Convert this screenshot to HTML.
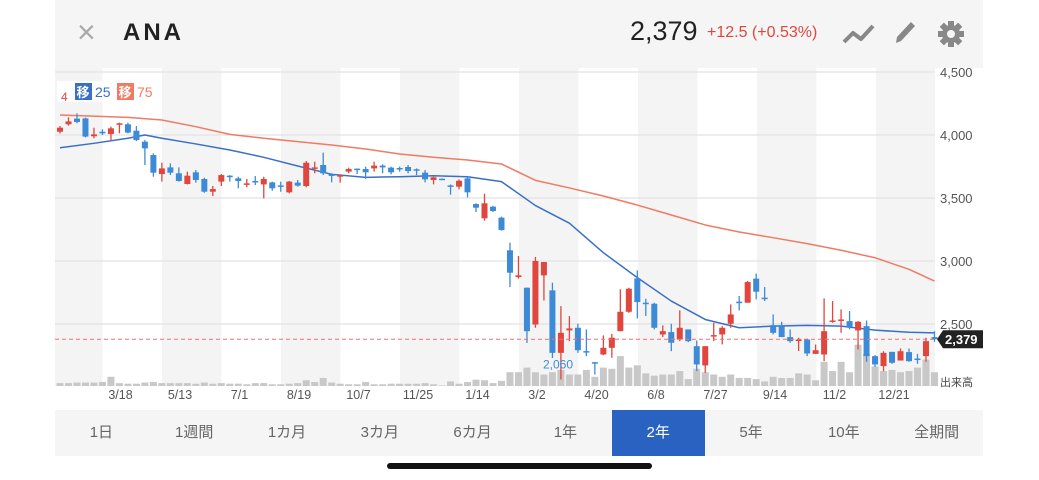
<!DOCTYPE html>
<html><head><meta charset="utf-8">
<style>
body{margin:0;width:1039px;height:480px;background:#fff;overflow:hidden;font-family:"Liberation Sans","Noto Sans CJK JP",sans-serif;}
#hdr{position:absolute;left:55px;top:0;width:928px;height:68px;background:#f5f5f5;}
.t{position:absolute;white-space:nowrap;}
#tabs{position:absolute;left:55px;top:410px;width:928px;height:46px;background:#f5f5f5;}
.tab{position:absolute;top:0;height:46px;width:92.8px;text-align:center;line-height:46px;font-size:15px;color:#666;}
.tab.sel{background:#2a62c2;color:#fff;}
</style></head><body>
<div id="hdr">
  <div class="t" style="left:22px;top:14px;font-size:32px;color:#aaa;font-weight:300">×</div>
  <div class="t" style="left:68px;top:19px;font-size:24px;font-weight:bold;letter-spacing:3px;color:#222">ANA</div>
  <div class="t" style="left:575px;top:16px;font-size:27px;color:#222">2,379</div>
  <div class="t" style="left:652px;top:24px;font-size:16px;color:#e0463e">+12.5 (+0.53%)</div>
  <svg class="t" style="left:787px;top:22px" width="34" height="24"><polyline points="2,20 11,11 19,17 31,4" fill="none" stroke="#888" stroke-width="4" stroke-linejoin="round"/></svg>
  <svg class="t" style="left:837px;top:19px" width="26" height="28"><path d="M4,24 L5,18 L19,3 L23,7 L9,22 Z" fill="#888"/></svg>
  <svg class="t" style="left:882px;top:20px" width="28" height="28"><g transform="translate(14,14)" fill="#888"><circle r="9"/><rect x="-3" y="-13" width="6" height="26"/><rect x="-3" y="-13" width="6" height="26" transform="rotate(45)"/><rect x="-3" y="-13" width="6" height="26" transform="rotate(90)"/><rect x="-3" y="-13" width="6" height="26" transform="rotate(135)"/><circle r="4" fill="#f5f5f5"/></g></svg>
</div>

<svg id="chart" width="1039" height="410" style="position:absolute;left:0;top:0">
  <g id="stripes"></g><g id="grid"></g><g id="vol"></g><g id="ma"></g><g id="candles"></g><g id="axes"></g>
</svg>

<div id="tabs"></div>
<div style="position:absolute;left:387px;top:463px;width:265px;height:6px;border-radius:3px;background:#111"></div>

<script>
const opens=[4026,4085,4130,4132,3990,4026,4008,4085,4085,4034,3947,3841,3690,3743,3696,3611,3704,3651,3550,3630,3677,3656,3611,3635,3608,3624,3600,3545,3622,3595,3735,3762,3688,3669,3709,3733,3730,3735,3757,3741,3738,3746,3728,3701,3643,3653,3600,3590,3656,3452,3339,3431,3344,3085,2873,2788,2496,2886,2767,2271,2449,2470,2285,2197,2258,2311,2443,2597,2862,2669,2661,2417,2436,2377,2457,2324,2171,2404,2417,2502,2677,2669,2860,2709,2491,2483,2396,2370,2377,2263,2258,2518,2528,2523,2449,2483,2245,2166,2279,2210,2277,2226,2245,2396];
const closes=[4058,4108,4103,3987,4005,4013,4053,4093,4019,3960,3894,3701,3735,3701,3635,3677,3643,3550,3571,3682,3669,3635,3616,3627,3651,3577,3590,3630,3598,3780,3743,3696,3675,3682,3730,3722,3704,3757,3743,3704,3728,3714,3717,3648,3664,3646,3595,3637,3545,3423,3458,3397,3246,2907,2886,2443,3000,2992,2271,2430,2465,2292,2277,2187,2311,2391,2597,2780,2674,2661,2470,2443,2351,2470,2364,2179,2324,2412,2470,2576,2666,2833,2756,2700,2430,2396,2364,2377,2266,2292,2443,2528,2536,2475,2518,2245,2179,2271,2192,2284,2205,2218,2364,2379];
const highs=[4071,4140,4172,4138,4058,4045,4066,4098,4098,4071,3960,3854,3780,3775,3743,3709,3722,3661,3595,3690,3682,3669,3651,3674,3669,3630,3630,3635,3643,3794,3788,3860,3696,3688,3741,3735,3749,3788,3767,3749,3749,3762,3735,3722,3669,3656,3608,3648,3669,3458,3534,3437,3352,3146,3040,2790,3032,2992,2828,2642,2563,2502,2457,2197,2409,2422,2775,2788,2926,2700,2669,2489,2502,2608,2457,2369,2324,2510,2483,2655,2722,2841,2900,2793,2576,2518,2457,2391,2383,2337,2703,2682,2616,2603,2523,2528,2253,2284,2279,2306,2306,2263,2391,2443];
const lows=[4013,4074,4093,3981,3974,4000,3952,4013,4013,3952,3762,3669,3630,3682,3630,3608,3622,3542,3516,3595,3630,3577,3585,3603,3497,3558,3550,3537,3590,3585,3696,3682,3624,3622,3696,3690,3653,3709,3696,3688,3709,3696,3682,3624,3608,3643,3526,3569,3505,3389,3320,3389,3241,2793,2860,2350,2470,2687,2230,2060,2364,2271,2245,2099,2253,2232,2443,2589,2544,2563,2457,2396,2284,2364,2356,2126,2112,2364,2338,2470,2608,2669,2695,2682,2417,2396,2351,2285,2245,2263,2205,2510,2430,2457,2298,2200,2160,2126,2184,2210,2200,2184,2200,2359];
const volumes=[2.5,2.5,3,3,3,3.5,8,2.5,2,2,3,3.5,2.5,2.5,2.5,2.5,2,3,2,2.5,2,2,1.5,2.5,2.5,1.5,1.5,2,2.5,5,3.5,7,3,2,1.5,1.5,3.5,1.5,1.5,2,2,2,2,2.5,1.5,0.5,4,2,3.5,5.5,5,2.5,4.5,12,12,16,12,10,12,14,10,10,14,8,16,15,26,16,18,11,9,10,10,13,6,15,12,10,8,10,7,7,6,4,8,7,7,11,10,5,21,13,21,12,36,28,17,13,14,12,13,16,23,12];
const ma25Idx=[0,4,8,10,12,16,20,24,28,32,36,40,44,48,52,56,60,64,68,72,76,80,84,88,92,96,100,103];
const ma25Val=[3899,3934,3974,4000,3974,3929,3881,3823,3754,3688,3664,3669,3677,3669,3630,3440,3300,3066,2868,2682,2536,2470,2483,2489,2483,2451,2435,2430];
const ma75Idx=[0,8,12,16,20,24,28,32,36,40,44,48,52,56,60,64,68,72,76,80,84,88,92,96,100,103];
const ma75Val=[4159,4140,4119,4066,4005,3974,3947,3921,3889,3849,3823,3802,3770,3640,3580,3516,3444,3365,3286,3230,3185,3138,3085,3026,2934,2841];
const yTicks=[4500,4000,3500,3000,2500];
const dateLabels=["3/18","5/13","7/1","8/19","10/7","11/25","1/14","3/2","4/20","6/8","7/27","9/14","11/2","12/21"];
const tabLabels=["1日","1週間","1カ月","3カ月","6カ月","1年","2年","5年","10年","全期間"];
const lastPrice=2379, lowLabel=2060;

const NS="http://www.w3.org/2000/svg";
const X=i=>60+i*8.49;
const Y=p=>135+(4000-p)*0.126;
const VB=386, VS=1.15;
function mk(tag,attrs,parent){const e=document.createElementNS(NS,tag);for(const k in attrs)e.setAttribute(k,attrs[k]);parent.appendChild(e);return e;}
const g=id=>document.getElementById(id);

for(let k=0;k<16;k++){
  const x0=43+k*59.5;
  if(k%2===0){const r=mk('rect',{x:Math.max(55,x0),y:68,width:Math.min(x0+59.5,935)-Math.max(55,x0),height:318,fill:'#f4f4f4'},g('stripes'));
  
  }
}
yTicks.forEach(v=>{
  const l=mk('line',{x1:55,x2:935,y1:Y(v),y2:Y(v),stroke:'#e2e2e8','stroke-width':1.2},g('grid'));
  
  
  const t=mk('text',{x:940,y:Y(v)+5,'font-size':13,fill:'#555'},g('axes'));
  t.textContent=v.toLocaleString('en-US');
  
  
});
volumes.forEach((v,i)=>{
  const r=mk('rect',{x:X(i)-3.5,y:VB-v*VS,width:7,height:v*VS,fill:'#c8c8c8'},g('vol'));
  
  
});
function line(idx,val,color,name){
  const p=mk('polyline',{points:idx.map((i,k)=>X(i)+','+Y(val[k])).join(' '),fill:'none',stroke:color,'stroke-width':1.5,'stroke-linejoin':'round'},g('ma'));
  
  
}
line(ma75Idx,ma75Val,'#f07a63','ma75-line');
line(ma25Idx,ma25Val,'#3a6fc7','ma25-line');
opens.forEach((o,i)=>{
  const c=closes[i],up=c>=o,col=up?'#e0463e':'#3d8bd6';
  const w=mk('line',{x1:X(i),x2:X(i),y1:Y(highs[i]),y2:Y(lows[i]),stroke:col,'stroke-width':1.3},g('candles'));
  
  
  const top=Y(Math.max(o,c)),h=Math.max(1.5,Math.abs(Y(o)-Y(c)));
  const b=mk('rect',{x:X(i)-3,y:top,width:6,height:h,fill:col},g('candles'));
  
  
});
const dl=mk('line',{x1:55,x2:935,y1:Y(lastPrice),y2:Y(lastPrice),stroke:'#ef7070','stroke-width':1,'stroke-dasharray':'4,3'},g('axes'));


const tg=mk('path',{d:`M937,${Y(lastPrice)} L943,${Y(lastPrice)-9} L983,${Y(lastPrice)-9} L983,${Y(lastPrice)+9} L943,${Y(lastPrice)+9} Z`,fill:'#222'},g('axes'));


const tt=mk('text',{x:945,y:Y(lastPrice)+5,'font-size':13,'font-weight':'bold',fill:'#fff'},g('axes'));
tt.textContent=lastPrice.toLocaleString('en-US');


const ll=mk('text',{x:543,y:Y(lowLabel)-11,'font-size':12,fill:'#3d8bd6'},g('axes'));
ll.textContent=lowLabel.toLocaleString('en-US');


const vt=mk('text',{x:940,y:386,'font-size':11,fill:'#444'},g('axes'));
vt.textContent='出来高';


dateLabels.forEach((d,k)=>{
  const t=mk('text',{x:120.5+k*59.5,y:399,'font-size':12.5,fill:'#555','text-anchor':'middle'},g('axes'));
  t.textContent=d;
  
  
});
const lg=g('axes');
const lb=mk('rect',{x:57,y:81,width:105,height:21,fill:'#fff','fill-opacity':0.9},lg);


const l4=mk('text',{x:61,y:101,'font-size':12,fill:'#e0463e'},lg);l4.textContent='4';


[[75,'#3a6fc7','25','legend-ma25'],[117,'#f07a63','75','legend-ma75']].forEach(([x,c,n,nm])=>{
  const gg=mk('g',{},lg);
  
  
  mk('rect',{x:x,y:83,width:17,height:17,fill:c},gg);
  const a=mk('text',{x:x+1.5,y:97,'font-size':13,'font-weight':'bold',fill:'#fff'},gg);a.textContent='移';
  const b=mk('text',{x:x+20,y:97,'font-size':14,fill:c},gg);b.textContent=n;
});
tabLabels.forEach((t,k)=>{
  const d=document.createElement('div');
  d.className='tab'+(t==='2年'?' sel':'');
  d.style.left=(k*92.8)+'px';
  d.textContent=t;
  
  
  g('tabs').appendChild(d);
});
</script>
</body></html>
